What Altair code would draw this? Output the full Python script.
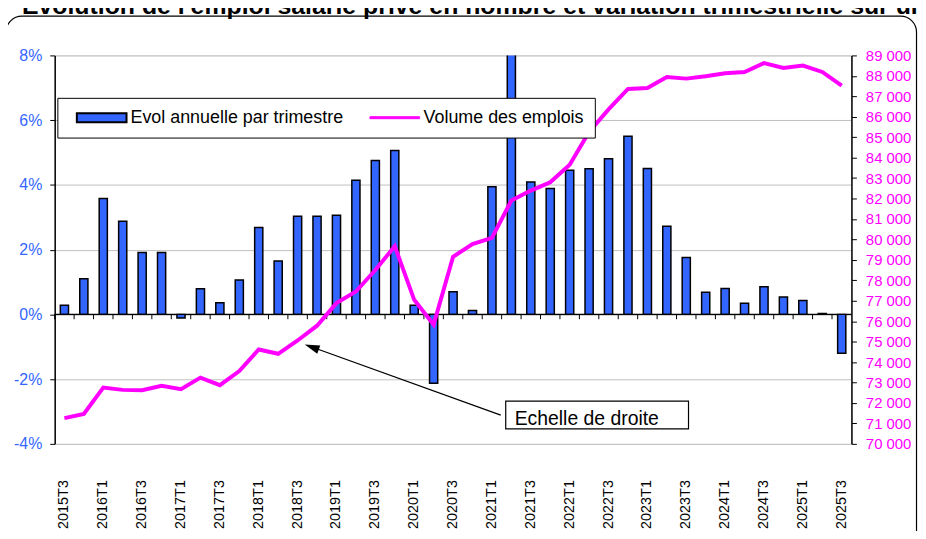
import altair as alt
import pandas as pd

# ---------------- data ----------------
quarters = [
    "2015T3", "2015T4",
    "2016T1", "2016T2", "2016T3", "2016T4",
    "2017T1", "2017T2", "2017T3", "2017T4",
    "2018T1", "2018T2", "2018T3", "2018T4",
    "2019T1", "2019T2", "2019T3", "2019T4",
    "2020T1", "2020T2", "2020T3", "2020T4",
    "2021T1", "2021T2", "2021T3", "2021T4",
    "2022T1", "2022T2", "2022T3", "2022T4",
    "2023T1", "2023T2", "2023T3", "2023T4",
    "2024T1", "2024T2", "2024T3", "2024T4",
    "2025T1", "2025T2", "2025T3",
]

# annual change per quarter, in %
evol_pct = [
    0.28, 1.10,
    3.58, 2.88, 1.91, 1.91,
    -0.11, 0.79, 0.36, 1.06,
    2.68, 1.65, 3.03, 3.03,
    3.06, 4.14, 4.75, 5.06,
    0.28, -2.13, 0.70, 0.12,
    3.94, 8.90, 4.09, 3.89,
    4.45, 4.50, 4.81, 5.50,
    4.51, 2.72, 1.76, 0.68,
    0.80, 0.34, 0.85, 0.54,
    0.43, 0.03, -1.20,
]

# number of jobs (right scale)
volume = [
    71260, 71460,
    72755, 72640, 72620, 72835,
    72670, 73240, 72870, 73560,
    74615, 74405, 75055, 75780,
    76885, 77450, 78500, 79670,
    77045, 75830, 79150, 79770,
    80075, 81905, 82390, 82795,
    83655, 85260, 86360, 87360,
    87410, 87945, 87865, 87980,
    88125, 88190, 88625, 88385,
    88500, 88190, 87525,
]

x_labels = [
    "2015T3", "2016T1", "2016T3", "2017T1", "2017T3", "2018T1", "2018T3",
    "2019T1", "2019T3", "2020T1", "2020T3", "2021T1", "2021T3", "2022T1",
    "2022T3", "2023T1", "2023T3", "2024T1", "2024T3", "2025T1", "2025T3",
]
left_ticks = [-4, -2, 0, 2, 4, 6, 8]
right_ticks = [70000, 71000, 72000, 73000, 74000, 75000, 76000, 77000, 78000, 79000,
               80000, 81000, 82000, 83000, 84000, 85000, 86000, 87000, 88000, 89000]

title_text = "Evolution de l'emploi salarié privé en nombre et variation trimestrielle sur un an"
legend_names = ["Evol annuelle par trimestre", "Volume des emplois"]
annotation_text = "Echelle de droite"

# ---------------- style ----------------
BLUE = "#3366FF"
MAGENTA = "#FF00FF"
FONT = "Liberation Sans"
W, H = 802, 391

df = pd.DataFrame({"trimestre": quarters, "evol": evol_pct, "volume": volume})
one = pd.DataFrame({"k": [0]})


def x_enc(**kw):
    return alt.X(
        "trimestre:N",
        sort=quarters,
        scale=alt.Scale(paddingInner=0, paddingOuter=0),
        axis=alt.Axis(
            values=x_labels, labelAngle=-90, labelPadding=36, ticks=False,
            domain=False, grid=False, title=None, labelFont=FONT,
            labelFontSize=14.5, labelColor="black",
        ),
        **kw,
    )


y_left_scale = alt.Scale(domain=[-4, 8], nice=False, zero=False)
y_left = alt.Y(
    "evol:Q",
    scale=y_left_scale,
    axis=alt.Axis(
        values=left_ticks, labelExpr="datum.value + '%'", title=None, orient="left",
        domainColor="black", domainWidth=1.5, tickColor="black", tickSize=5,
        labelPadding=8, labelColor=BLUE, labelFontSize=16, labelFont=FONT,
        grid=True, gridColor="#c0c0c0", gridWidth=1,
    ),
)

bars = alt.Chart(df).mark_bar(
    width=alt.RelativeBandSize(0.42), fill=BLUE, stroke="black", strokeWidth=1.5, clip=True
).encode(x=x_enc(), y=y_left, y2=alt.Y2(datum=0))

zero_line = alt.Chart(one).mark_rule(color="black", strokeWidth=1.5).encode(
    y=alt.Y(datum=0, scale=y_left_scale)
)

zero_ticks = alt.Chart(df).mark_rule(color="black", strokeWidth=1).encode(
    x=x_enc(bandPosition=0),
    y=alt.Y(datum=0, scale=y_left_scale),
    y2=alt.Y2(datum=-0.15),
)

left_layer = alt.layer(bars, zero_line, zero_ticks)

line = alt.Chart(df).mark_line(color=MAGENTA, strokeWidth=4).encode(
    x=x_enc(),
    y=alt.Y(
        "volume:Q",
        scale=alt.Scale(domain=[70000, 89000], nice=False, zero=False),
        axis=alt.Axis(
            orient="right", values=right_ticks, title=None,
            labelExpr="replace(format(datum.value, ','), ',', ' ')",
            domainColor="black", domainWidth=1.5, tickColor="black", tickSize=5,
            labelPadding=9, labelColor=MAGENTA, labelFontSize=15, labelFont=FONT,
            grid=False,
        ),
    ),
)

# legend built from a colour scale (no visible marks of its own)
legend_layer = alt.Chart(pd.DataFrame({"serie": legend_names})).transform_filter(
    "false"
).mark_point(filled=True).encode(
    color=alt.Color(
        "serie:N",
        scale=alt.Scale(domain=legend_names, range=[BLUE, MAGENTA]),
        legend=alt.Legend(
            title=None, orient="none", legendX=2.7, legendY=42.7, direction="horizontal",
            fillColor="white", strokeColor="black", padding=11, cornerRadius=0,
            symbolType=alt.ExprRef(
                "datum.label == 'Volume des emplois' ? 'M-2.5,-0.1H2.5V0.1H-2.5Z' : 'M-2.5,-0.45H2.5V0.45H-2.5Z'"
            ),
            symbolStrokeColor=alt.ExprRef(
                "datum.label == 'Volume des emplois' ? '#FF00FF' : '#000000'"
            ),
            symbolStrokeWidth=alt.ExprRef(
                "datum.label == 'Volume des emplois' ? 1 : 2"
            ),
            symbolSize=400, symbolOffset=24.6, labelOffset=20, columnPadding=18,
            labelFont=FONT, labelFontSize=18, labelColor="black", labelLimit=400,
            symbolOpacity=1,
        ),
    )
)

# outer rounded frame
frame = alt.Chart(one).mark_rect(
    fillOpacity=0, stroke="black", strokeWidth=1.2, cornerRadius=16
).encode(
    x=alt.value(-49), x2=alt.value(867.5), y=alt.value(-39.5), y2=alt.value(600)
)

title = alt.Chart(one).mark_text(
    text=title_text, font=FONT, fontSize=25, fontWeight="bold", align="left",
    baseline="alphabetic", color="black",
).encode(x=alt.value(-33), y=alt.value(-42))

# annotation "Echelle de droite" with arrow
arrow_line = alt.Chart(one).mark_rule(color="black", strokeWidth=1.3).encode(
    x=alt.value(449), y=alt.value(362), x2=alt.value(256), y2=alt.value(292.5)
)
arrow_head = alt.Chart(one).mark_point(
    shape="M0,0L0.6,2L-0.6,2Z", filled=True, color="black", opacity=1, size=225, angle=290
).encode(x=alt.value(251.7), y=alt.value(291))
annot_box = alt.Chart(one).mark_rect(
    fill="white", stroke="black", strokeWidth=1.2
).encode(x=alt.value(454), x2=alt.value(638), y=alt.value(348), y2=alt.value(376))
annot_text = alt.Chart(one).mark_text(
    text=annotation_text, font=FONT, fontSize=19.5, align="left", baseline="alphabetic",
    color="black",
).encode(x=alt.value(463), y=alt.value(372))

chart = alt.layer(
    frame, title, left_layer, line, legend_layer,
    arrow_line, arrow_head, annot_box, annot_text,
).resolve_scale(y="independent").properties(
    width=W, height=H,
    autosize=alt.AutoSizeParams(type="none"),
    padding={"left": 47, "top": 46, "right": 67, "bottom": 86},
).configure_view(
    stroke="#808080", strokeWidth=1.5
).configure(background="white")

chart.save("out.html", embed_options={"renderer": "svg", "actions": False})
